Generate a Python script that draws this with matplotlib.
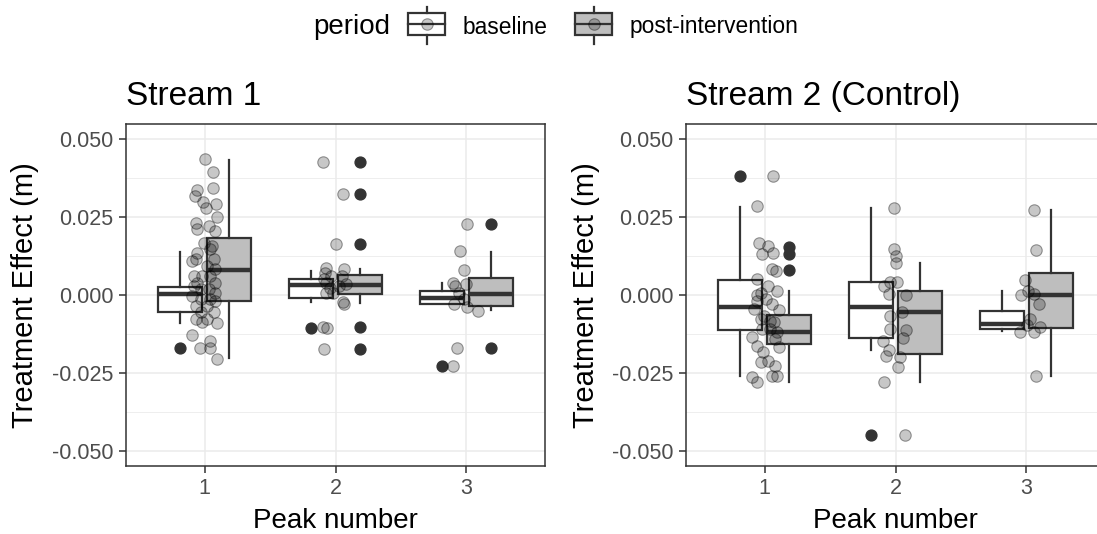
import matplotlib
matplotlib.use('Agg')
import matplotlib.pyplot as plt
from matplotlib.patches import Rectangle
from matplotlib.lines import Line2D

plt.rcParams['font.family'] = ['Liberation Sans', 'DejaVu Sans']

# ---------------- data ----------------
peaks = [1, 2, 3]
periods = ['baseline', 'post-intervention']
panel_titles = ['Stream 1', 'Stream 2 (Control)']
y_ticks = [-0.050, -0.025, 0.000, 0.025, 0.050]
y_tick_labels = ['-0.050', '-0.025', '0.000', '0.025', '0.050']
x_tick_labels = ['1', '2', '3']

# Stream 1 box statistics (per peak)
s1_base_med = [0.0002, 0.0032, -0.0009]
s1_base_q1 = [-0.0053, -0.0009, -0.0028]
s1_base_q3 = [0.0026, 0.0052, 0.0013]
s1_base_lo = [-0.0090, -0.0024, -0.0030]
s1_base_hi = [0.0137, 0.0077, 0.0039]
s1_base_out = [[-0.0169], [-0.0107], [-0.0228]]

s1_post_med = [0.0080, 0.0032, 0.0004]
s1_post_q1 = [-0.0020, 0.0002, -0.0035]
s1_post_q3 = [0.0183, 0.0064, 0.0053]
s1_post_lo = [-0.0203, -0.0027, -0.0049]
s1_post_hi = [0.0433, 0.0082, 0.0138]
s1_post_out = [[], [0.0427, 0.0325, 0.0163, -0.0103, -0.0173], [0.0229, -0.0171]]

# Stream 2 box statistics (per peak)
s2_base_med = [-0.0038, -0.0040, -0.0094]
s2_base_q1 = [-0.0112, -0.0139, -0.0110]
s2_base_q3 = [0.0049, 0.0041, -0.0052]
s2_base_lo = [-0.0259, -0.0176, -0.0115]
s2_base_hi = [0.0282, 0.0278, 0.0012]
s2_base_out = [[0.0382], [-0.0450], []]

s2_post_med = [-0.0118, -0.0054, 0.0000]
s2_post_q1 = [-0.0157, -0.0189, -0.0105]
s2_post_q3 = [-0.0064, 0.0014, 0.0071]
s2_post_lo = [-0.0280, -0.0280, -0.0261]
s2_post_hi = [0.0012, 0.0101, 0.0271]
s2_post_out = [[0.0155, 0.0132, 0.0081], [], []]

# Jittered observations: horizontal jitter (relative to peak) and value
s1_jit_dx = [
    [0.000, 0.063, -0.056, 0.066, -0.076, -0.015, 0.008, 0.086, 0.096, -0.068,
     -0.056, 0.033, 0.083, -0.005, 0.058, -0.056, 0.045, -0.068, -0.093, 0.071,
     0.020, 0.083, -0.081, -0.018, 0.045, -0.056, 0.083, -0.081, -0.030, 0.033,
     0.083, -0.093, -0.030, 0.045, 0.083, -0.068, 0.020, -0.030, 0.071, -0.068,
     0.020, -0.018, 0.096, -0.093, 0.045, -0.038, 0.040, 0.093],
    [-0.096, 0.056, 0.000, -0.076, 0.063, -0.083, -0.033, -0.091, 0.051, -0.071,
     0.081, -0.045, 0.030, -0.076, -0.020, 0.061, 0.068, -0.096, -0.066, -0.091],
    [0.003, -0.051, -0.018, -0.106, -0.005, -0.086, -0.056, -0.093, -0.018, 0.008,
     0.091, -0.073, -0.106],
]
s1_jit_y = [
    [0.0436, 0.0394, 0.0337, 0.0344, 0.0316, 0.0299, 0.0279, 0.0292, 0.0250, 0.0231,
     0.0210, 0.0220, 0.0204, 0.0167, 0.0156, 0.0135, 0.0146, 0.0114, 0.0109, 0.0114,
     0.0093, 0.0082, 0.0061, 0.0061, 0.0061, 0.0039, 0.0039, 0.0029, 0.0018, 0.0018,
     0.0007, -0.0003, -0.0014, -0.0014, -0.0019, -0.0035, -0.0035, -0.0056, -0.0056, -0.0078,
     -0.0078, -0.0088, -0.0090, -0.0129, -0.0147, -0.0169, -0.0169, -0.0205],
    [0.0427, 0.0325, 0.0163, 0.0087, 0.0084, 0.0071, 0.0061, 0.0050, 0.0061, 0.0039,
     0.0034, 0.0023, 0.0029, 0.0007, 0.0007, -0.0024, -0.0030, -0.0104, -0.0107, -0.0173],
    [0.0229, 0.0140, 0.0080, 0.0039, 0.0034, 0.0029, 0.0007, -0.0030, -0.0014, -0.0040,
     -0.0051, -0.0169, -0.0228],
]
s2_jit_dx = [
    [0.066, -0.061, -0.043, 0.025, -0.018, 0.061, 0.058, 0.088, -0.061, 0.025,
     0.096, -0.061, -0.030, -0.061, 0.008, 0.058, -0.081, 0.109, -0.005, -0.030,
     0.045, 0.071, -0.018, 0.040, 0.096, -0.093, 0.083, -0.061, 0.109, -0.010,
     -0.030, 0.025, 0.083, -0.093, -0.061, 0.058, 0.096],
    [-0.015, -0.008, 0.005, 0.005, -0.040, 0.010, -0.091, -0.051, 0.081, -0.040,
     0.048, -0.040, 0.081, 0.061, -0.096, -0.051, -0.071, 0.035, 0.018, -0.091, 0.071],
    [0.056, 0.076, -0.013, 0.013, -0.045, 0.056, 0.093, 0.025, 0.005, 0.101,
     -0.051, 0.056, 0.076],
]
s2_jit_y = [
    [0.0382, 0.0284, 0.0167, 0.0156, 0.0132, 0.0135, 0.0082, 0.0077, 0.0052, 0.0029,
     0.0012, -0.0001, 0.0007, -0.0019, -0.0014, -0.0030, -0.0046, -0.0048, -0.0067, -0.0078,
     -0.0083, -0.0088, -0.0110, -0.0110, -0.0120, -0.0136, -0.0142, -0.0163, -0.0168, -0.0184,
     -0.0214, -0.0211, -0.0227, -0.0262, -0.0280, -0.0259, -0.0259],
    [0.0278, 0.0146, 0.0124, 0.0103, 0.0041, 0.0041, 0.0029, 0.0002, -0.0001, -0.0067,
     -0.0056, -0.0110, -0.0112, -0.0139, -0.0147, -0.0176, -0.0197, -0.0200, -0.0232, -0.0280,
     -0.0450],
    [0.0271, 0.0144, 0.0047, 0.0013, 0.0000, 0.0002, -0.0030, -0.0078, -0.0097, -0.0101,
     -0.0117, -0.0117, -0.0261],
]

streams = [
    {
        'base': (s1_base_med, s1_base_q1, s1_base_q3, s1_base_lo, s1_base_hi, s1_base_out),
        'post': (s1_post_med, s1_post_q1, s1_post_q3, s1_post_lo, s1_post_hi, s1_post_out),
        'jdx': s1_jit_dx, 'jy': s1_jit_y,
    },
    {
        'base': (s2_base_med, s2_base_q1, s2_base_q3, s2_base_lo, s2_base_hi, s2_base_out),
        'post': (s2_post_med, s2_post_q1, s2_post_q3, s2_post_lo, s2_post_hi, s2_post_out),
        'jdx': s2_jit_dx, 'jy': s2_jit_y,
    },
]

# ---------------- style ----------------
W, H = 1097, 534
DARK = '#333333'
GRID = '#EBEBEB'
TICKC = '#4D4D4D'
POST_FILL = '#BEBEBE'
BOX_W = 0.3375
DODGE = 0.1875
PT_FACE = (0, 0, 0, 0.22)
PT_EDGE = (0, 0, 0, 0.38)
PT_SIZE = 68

fig = plt.figure(figsize=(W / 100, H / 100), dpi=100)
fig.patch.set_facecolor('white')


def make_stats(t):
    med, q1, q3, lo, hi, out = t
    return [dict(med=med[i], q1=q1[i], q3=q3[i], whislo=lo[i], whishi=hi[i],
                 fliers=out[i]) for i in range(len(med))]


panel_left = [126, 686]
for k, st in enumerate(streams):
    ax = fig.add_axes([panel_left[k] / W, 1 - 466 / H, 419 / W, 342 / H])
    ax.set_xlim(0.4, 3.6)
    ax.set_ylim(-0.0548, 0.0548)
    ax.set_yticks(y_ticks)
    ax.set_yticklabels(y_tick_labels)
    ax.set_yticks([-0.0375, -0.0125, 0.0125, 0.0375], minor=True)
    ax.set_xticks(peaks)
    ax.set_xticklabels(x_tick_labels)
    ax.grid(True, which='major', color=GRID, linewidth=1.1, zorder=0)
    ax.grid(True, which='minor', axis='y', color=GRID, linewidth=0.6, zorder=0)
    ax.set_axisbelow(True)
    ax.tick_params(axis='both', which='major', length=5, width=1.1, color=DARK,
                   labelcolor=TICKC, labelsize=15.5, pad=4)
    ax.tick_params(axis='both', which='minor', length=0)
    for s in ax.spines.values():
        s.set_color(DARK)
        s.set_linewidth(1.1)

    for key, off, fill in (('base', -DODGE, 'white'), ('post', DODGE, POST_FILL)):
        ax.bxp(make_stats(st[key]), positions=[p + off for p in peaks], widths=BOX_W,
               patch_artist=True, showcaps=False, manage_ticks=False,
               boxprops=dict(facecolor=fill, edgecolor=DARK, linewidth=1.6),
               medianprops=dict(color=DARK, linewidth=3.2, solid_capstyle='butt'),
               whiskerprops=dict(color=DARK, linewidth=1.6),
               flierprops=dict(marker='o', markerfacecolor=DARK, markeredgecolor=DARK,
                               markersize=7.8, linestyle='none'))

    for i, p in enumerate(peaks):
        xs = [p + d for d in st['jdx'][i]]
        ax.scatter(xs, st['jy'][i], s=PT_SIZE, facecolor=PT_FACE, edgecolor=PT_EDGE,
                   linewidths=0.8, zorder=5)

    ax.set_title(panel_titles[k], loc='left', fontsize=24, pad=14, color='black')
    ax.set_ylabel('Treatment Effect (m)', fontsize=21, labelpad=9, color='black')
    ax.set_xlabel('Peak number', fontsize=20, labelpad=6, color='black')

# ---------------- legend ----------------
lax = fig.add_axes([0, 0, 1, 1])
lax.set_xlim(0, W)
lax.set_ylim(H, 0)
lax.axis('off')
lax.text(313, 27, 'period', fontsize=20, ha='left', va='center', color='black')
legend_keys = [(408, 445, 'white', periods[0], 463), (575, 612, POST_FILL, periods[1], 630)]
for x0, x1, fill, lab, tx in legend_keys:
    cx = (x0 + x1) / 2
    lax.add_line(Line2D([cx, cx], [7, 13], color=DARK, linewidth=1.6))
    lax.add_line(Line2D([cx, cx], [35, 44], color=DARK, linewidth=1.6))
    lax.add_patch(Rectangle((x0, 13), x1 - x0, 22, facecolor=fill, edgecolor=DARK,
                            linewidth=1.6))
    lax.add_line(Line2D([x0, x1], [24, 24], color=DARK, linewidth=1.6))
    lax.scatter([cx], [24], s=PT_SIZE, facecolor=PT_FACE, edgecolor=PT_EDGE, linewidths=0.8,
                zorder=5)
    lax.text(tx, 27, lab, fontsize=16.4, ha='left', va='center', color='black')

fig.savefig('out.png', dpi=100)
